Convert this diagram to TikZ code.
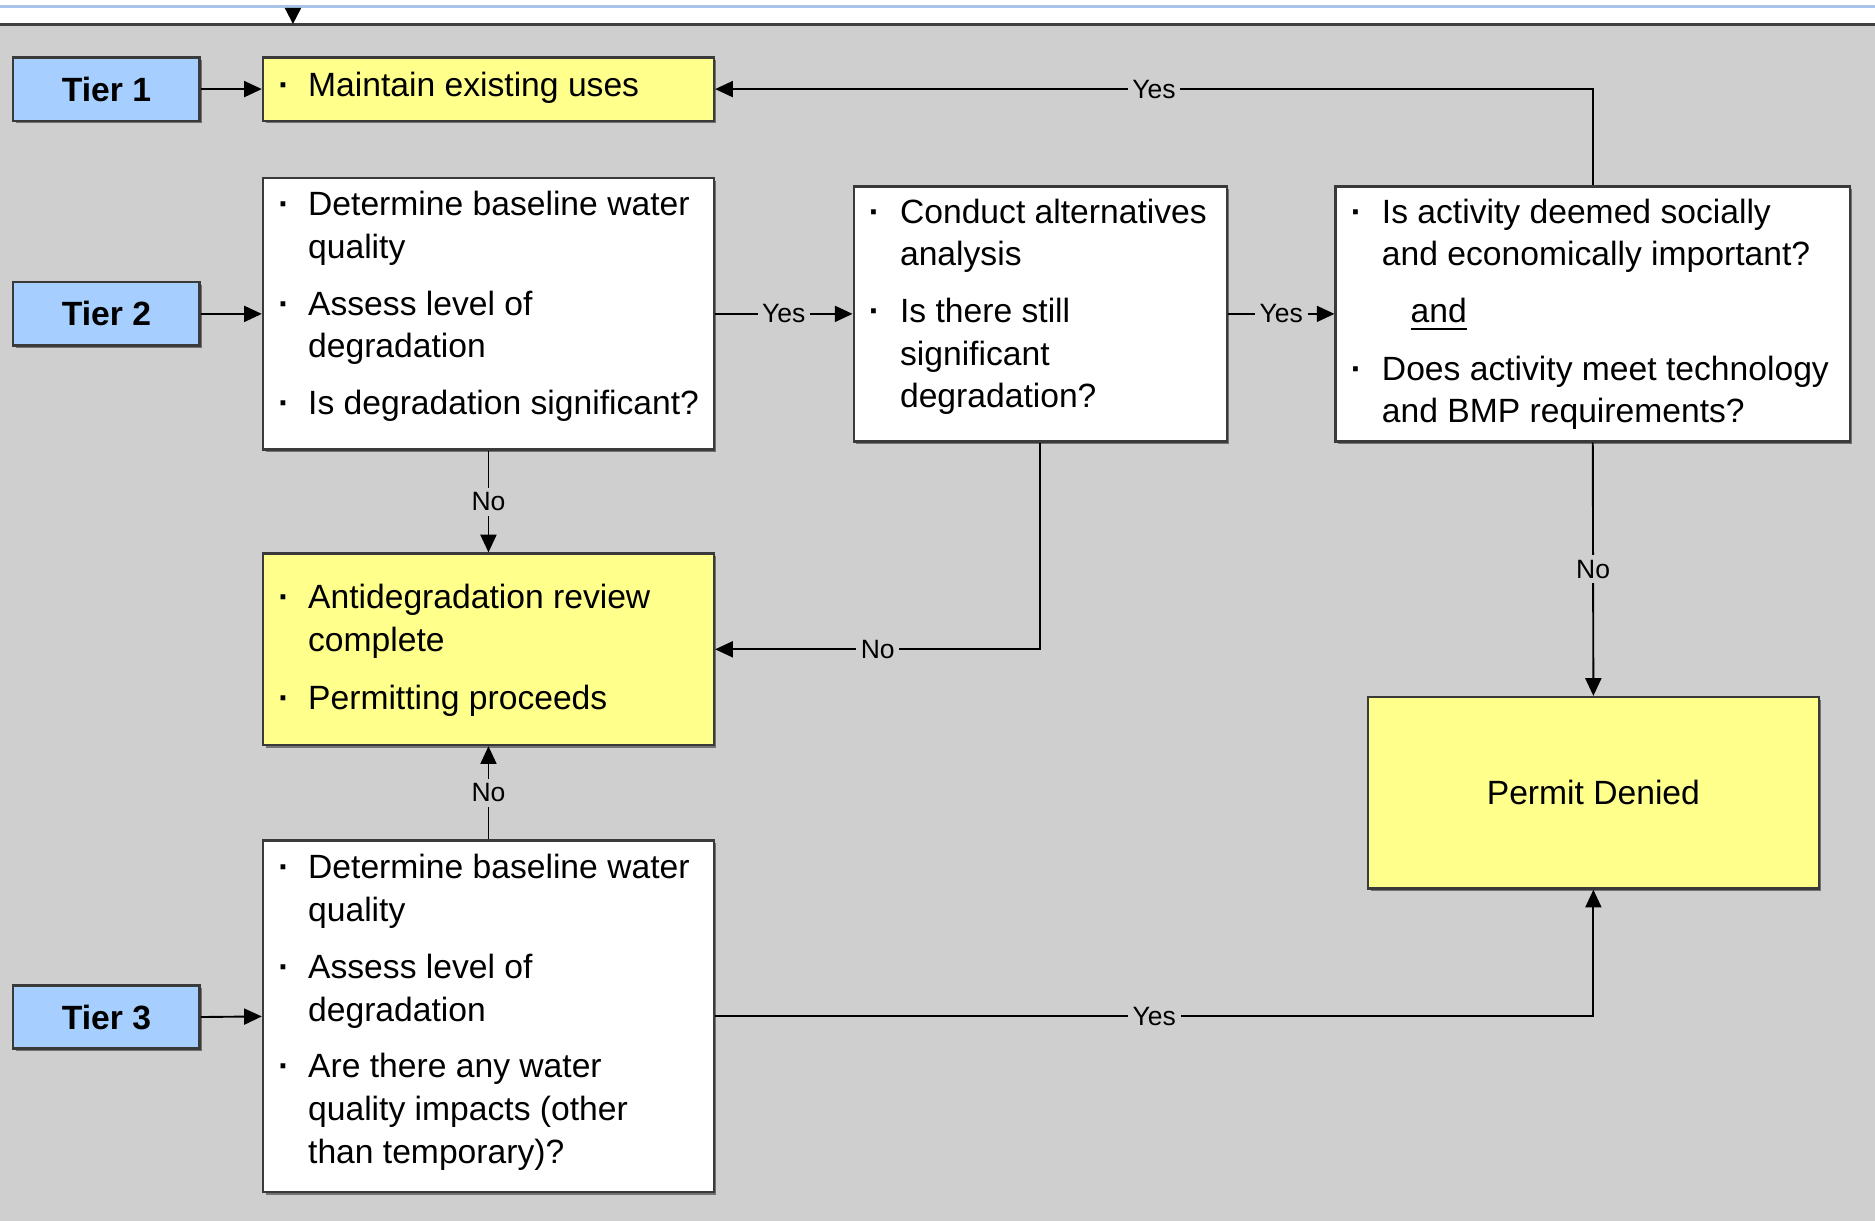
\documentclass[tikz,border=0pt]{standalone}
\usepackage{fontspec}
\setmainfont{Liberation Sans}
\usetikzlibrary{arrows.meta,fit,shadows}
\definecolor{bggray}{HTML}{CFCFCF}
\definecolor{boxyel}{HTML}{FFFF8C}
\definecolor{boxblue}{HTML}{A6CFFF}
\definecolor{boxline}{HTML}{3A3A3A}
\definecolor{topblue}{HTML}{A9C4E8}
\newcounter{tl}
\newcommand\tline[3]{\stepcounter{tl}\node[txt] (tl\thetl) at (#1,#2) {#3};}
\newcommand\bul[2]{\stepcounter{tl}\node[txt] (bl\thetl) at (#1,#2) {\bfseries\textperiodcentered};}
\begin{document}
\begin{tikzpicture}[x=0.01cm,y=-0.01cm,
  boxbase/.style={draw=boxline, line width=0.6pt, inner sep=0pt,
    drop shadow={shadow xshift=0.6pt, shadow yshift=-0.6pt, fill=black!70, opacity=0.7}},
  wbox/.style={boxbase, fill=white},
  ybox/.style={boxbase, fill=boxyel},
  tbox/.style={boxbase, fill=boxblue},
  txt/.style={anchor=base west, inner sep=0pt, font=\fontsize{8}{9.6}\selectfont},
  tier/.style={inner sep=0pt, font=\fontsize{8}{9.6}\selectfont\bfseries},
  lbl/.style={fill=bggray, inner sep=1.1pt, font=\fontsize{6.3}{7}\selectfont},
  conn/.style={line width=0.45pt, black},
  arr/.style={conn, -{Triangle[length=4.2pt,width=3.8pt]}}
]
\useasboundingbox (0,0) rectangle (1568,1021);
% background
\fill[white] (0,0) rectangle (1568,21);
\fill[bggray] (0,21) rectangle (1568,1021);
\draw[topblue, line width=0.6pt] (0,5.5) -- (1568,5.5);
\draw[black!75, line width=0.7pt] (0,20.5) -- (1568,20.5);
\fill[black] (238,6.5) -- (252,6.5) -- (245,20) -- cycle;

% tier boxes
\node[tbox, fit={(11,48) (167,101)}] (tier1) {};
\node[tbox, fit={(11,236) (167,289)}] (tier2) {};
\node[tbox, fit={(11,824) (167,877)}] (tier3) {};
\node[tier] (tier1t) at (tier1.center) {Tier 1};
\node[tier] (tier2t) at (tier2.center) {Tier 2};
\node[tier] (tier3t) at (tier3.center) {Tier 3};

% main boxes
\node[ybox, fit={(220,48) (597,101)}] (maint) {};
\node[wbox, fit={(220,149) (597,376)}] (t2box) {};
\node[ybox, fit={(220,463) (597,623)}] (antideg) {};
\node[wbox, fit={(220,703) (597,997)}] (t3box) {};
\node[wbox, fit={(714,156) (1026,369)}] (conduct) {};
\node[wbox, fit={(1117,156) (1547,369)}] (isact) {};
\node[ybox, fit={(1144,583) (1521,743)}] (pd) {};
\node[tier, font=\fontsize{8}{9.6}\selectfont] (pdt) at (pd.center) {Permit Denied};

% texts
\bul{232}{81}\tline{257}{81}{Maintain existing uses}

\bul{232}{180}\tline{257}{180}{Determine baseline water}
\tline{257}{216}{quality}
\bul{232}{264}\tline{257}{264}{Assess level of}
\tline{257}{299}{degradation}
\bul{232}{347}\tline{257}{347}{Is degradation significant?}

\bul{232}{509}\tline{257}{509}{Antidegradation review}
\tline{257}{545}{complete}
\bul{232}{593}\tline{257}{593}{Permitting proceeds}

\bul{232}{735}\tline{257}{735}{Determine baseline water}
\tline{257}{771}{quality}
\bul{232}{818}\tline{257}{818}{Assess level of}
\tline{257}{854}{degradation}
\bul{232}{901}\tline{257}{901}{Are there any water}
\tline{257}{937}{quality impacts (other}
\tline{257}{973}{than temporary)?}

\bul{726}{187}\tline{752}{187}{Conduct alternatives}
\tline{752}{222}{analysis}
\bul{726}{270}\tline{752}{270}{Is there still}
\tline{752}{306}{significant}
\tline{752}{341}{degradation?}

\bul{1129}{187}\tline{1155}{187}{Is activity deemed socially}
\tline{1155}{222}{and economically important?}
\tline{1179}{270}{\underline{and}}
\bul{1129}{318}\tline{1155}{318}{Does activity meet technology}
\tline{1155}{353}{and BMP requirements?}

% connectors
\draw[arr] (tier1.east) -- (maint.west);
\draw[arr] (tier2.east) -- (t2box.west);
\draw[arr] (tier3.east) -- (t3box.west);
\draw[arr] (t2box.east) -- node[lbl] {Yes} (conduct.west);
\draw[arr] (conduct.east) -- node[lbl] {Yes} (isact.west);
\draw[arr] (isact.north) |- node[lbl, pos=0.75] {Yes} (maint.east);
\draw[arr] (t2box.south) -- node[lbl] {No} (antideg.north);
\draw[arr] (conduct.south) |- node[lbl, pos=0.75] {No} (antideg.east);
\draw[arr] (isact.south) -- node[lbl] {No} (pd.north);
\draw[arr] (t3box.north) -- node[lbl] {No} (antideg.south);
\draw[arr] (t3box.east) -| node[lbl, pos=0.25] {Yes} (pd.south);
\end{tikzpicture}
\end{document}
